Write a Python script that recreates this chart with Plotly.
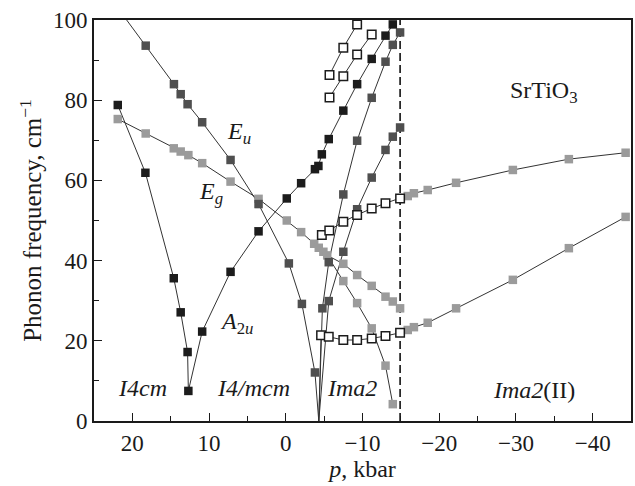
import plotly.graph_objects as go

# ---------------- data (pressure p in kbar, frequency in cm^-1) ----------------
# A2u mode (I4cm -> I4/mcm -> Ima2), black squares
A2U_P = [21.9, 18.3, 14.6, 13.7, 12.8, 12.7, 10.9, 7.2, 3.55, -0.13, -2.0, -3.8, -4.25, -4.7, -5.6, -7.5, -9.3, -11.2, -13.0, -13.95]
A2U_F = [78.8, 61.9, 35.6, 27.1, 17.2, 7.5, 22.3, 37.2, 47.3, 55.5, 59.3, 62.8, 63.6, 66.5, 70.3, 77.4, 84.0, 90.3, 96.1, 98.9]

# Eu soft mode, dark grey squares
EU_P = [21.9, 18.26, 14.58, 13.7, 12.8, 10.9, 7.2, 3.55, -0.4, -2.1, -3.8]
EU_F = [103.0, 93.6, 84.0, 81.5, 79.0, 74.5, 65.1, 54.1, 39.3, 29.2, 12.1]

# soft-mode zero point at the I4/mcm -> Ima2 transition
SOFT_P = [-4.3]
SOFT_F = [0.0]

# Eg mode, light grey squares
EG_P = [21.9, 18.26, 14.6, 13.7, 12.7, 10.9, 7.2, 3.55, -0.13, -2.0, -3.7, -4.3, -4.9, -5.4]
EG_F = [75.3, 71.7, 68.0, 67.2, 66.3, 64.3, 59.7, 55.4, 50.0, 47.1, 44.2, 43.2, 42.2, 41.3]
EGA_P = [-7.5, -9.3, -11.2, -13.0, -13.95, -14.9]
EGA_F = [39.2, 36.4, 33.7, 31.0, 29.8, 28.1]
EGB_P = [-7.5, -9.3, -11.2, -13.0, -13.95]
EGB_F = [34.9, 29.4, 23.1, 13.8, 4.2]

# Ima2 dark grey branches
D1_P = [-4.77, -5.6, -7.5, -9.3, -11.2, -13.0, -13.95, -14.9]
D1_F = [28.1, 39.6, 56.5, 69.9, 80.6, 89.6, 93.8, 96.9]
D2_P = [-5.6, -7.5, -9.3, -11.2, -13.0, -13.95, -14.9]
D2_F = [29.9, 42.2, 52.8, 60.7, 67.6, 70.9, 73.2]

# Ima2 open squares
O1_P = [-5.7, -7.5, -9.3]
O1_F = [86.3, 93.1, 98.9]
O2_P = [-5.7, -7.5, -9.3, -11.2]
O2_F = [80.7, 86.0, 91.4, 96.4]
OMID_P = [-4.7, -5.67, -7.5, -9.3, -11.2, -13.0, -14.9]
OMID_F = [46.4, 47.5, 49.7, 51.4, 53.0, 54.3, 55.5]
OLOW_P = [-4.6, -5.6, -7.5, -9.3, -11.2, -13.0, -14.9]
OLOW_F = [21.4, 21.0, 20.2, 20.2, 20.6, 21.2, 22.0]

# Ima2(II) light grey branches
UII_P = [-15.9, -16.7, -18.5, -22.2, -29.6, -36.9, -44.3]
UII_F = [56.1, 56.8, 57.6, 59.4, 62.6, 65.3, 66.9]
LII_P = [-15.9, -16.7, -18.5, -22.2, -29.6, -36.9, -44.3]
LII_F = [22.7, 23.4, 24.5, 28.1, 35.2, 43.1, 50.9]

# Ima2 -> Ima2(II) transition pressure (dashed line)
PT_P = [-14.9, -14.9]
PT_F = [0, 100]

X_TICKS = [20, 10, 0, -10, -20, -30, -40]
Y_TICKS = [0, 20, 40, 60, 80, 100]

# ---------------- styles ----------------
FONT = "Liberation Serif"
BLACK = "#1c1c1c"
DARK = "#4f4f4f"
LIGHT = "#9b9b9b"
LINE = "#333333"
MS = 8.5

fig = go.Figure()


def line(xs, ys):
    fig.add_trace(go.Scatter(x=xs, y=ys, mode="lines",
                             line=dict(color=LINE, width=1), hoverinfo="skip"))


def marks(xs, ys, color, open_=False):
    if open_:
        m = dict(symbol="square", size=MS, color="white",
                 line=dict(color=BLACK, width=1.5))
    else:
        m = dict(symbol="square", size=MS, color=color, line=dict(width=0))
    fig.add_trace(go.Scatter(x=xs, y=ys, mode="markers", marker=m))


# connecting lines
line(A2U_P, A2U_F)
line(EU_P + SOFT_P, EU_F + SOFT_F)
line(EG_P, EG_F)
line(EG_P[-1:] + EGA_P, EG_F[-1:] + EGA_F)
line(EG_P[-1:] + EGB_P, EG_F[-1:] + EGB_F)
line(SOFT_P + D1_P, SOFT_F + D1_F)
line(SOFT_P + D2_P, SOFT_F + D2_F)
line(O1_P, O1_F)
line(O2_P, O2_F)
line(OMID_P + UII_P, OMID_F + UII_F)
line(SOFT_P + OLOW_P + LII_P, SOFT_F + OLOW_F + LII_F)

# dashed transition line
fig.add_trace(go.Scatter(x=PT_P, y=PT_F, mode="lines",
                         line=dict(color="black", width=1.5, dash="8px,4px")))

# markers
marks(EG_P, EG_F, LIGHT)
marks(EGA_P, EGA_F, LIGHT)
marks(EGB_P, EGB_F, LIGHT)
marks(UII_P, UII_F, LIGHT)
marks(LII_P, LII_F, LIGHT)
marks(EU_P, EU_F, DARK)
marks(D1_P, D1_F, DARK)
marks(D2_P, D2_F, DARK)
marks(A2U_P, A2U_F, BLACK)
marks(O1_P, O1_F, None, True)
marks(O2_P, O2_F, None, True)
marks(OMID_P, OMID_F, None, True)
marks(OLOW_P, OLOW_F, None, True)

# text labels
labels = [
    ("<i>E</i><sub><i>u</i></sub>", 6.1, 71.8),
    ("<i>E</i><sub><i>g</i></sub>", 9.8, 56.9),
    ("<i>A</i><sub>2<i>u</i></sub>", 6.4, 24.4),
    ("<i>I4cm</i>", 18.7, 8.2),
    ("<i>I4/mcm</i>", 4.2, 8.2),
    ("<i>Ima2</i>", -8.6, 8.2),
    ("<i>Ima2</i>(II)", -32.4, 7.7),
    ("SrTiO<sub>3</sub>", -33.7, 82.1),
]
for txt, x, y in labels:
    fig.add_annotation(x=x, y=y, text=txt, showarrow=False,
                       font=dict(family=FONT, size=24, color="#1a1a1a"),
                       xanchor="center", yanchor="middle")

axis_common = dict(
    showgrid=False, zeroline=False, showline=True, mirror=True,
    linecolor="#1a1a1a", linewidth=2, ticks="inside", ticklen=8,
    tickwidth=1.3, tickcolor="#1a1a1a",
    tickfont=dict(family=FONT, size=23, color="#1a1a1a"),
)

fig.update_xaxes(range=[25, -45], tickvals=X_TICKS,
                 minor=dict(ticks="inside", ticklen=5, dtick=5, tick0=0,
                            tickcolor="#1a1a1a", tickwidth=1.3),
                 title=dict(text="<i>p</i>, kbar",
                            font=dict(family=FONT, size=24, color="#1a1a1a"),
                            standoff=5),
                 **axis_common)
fig.update_yaxes(range=[0, 100], tickvals=Y_TICKS,
                 minor=dict(ticks="inside", ticklen=5, dtick=10, tick0=0,
                            tickcolor="#1a1a1a", tickwidth=1.3),
                 title=dict(text="Phonon frequency, cm<sup>−1</sup>",
                            font=dict(family=FONT, size=25, color="#1a1a1a"),
                            standoff=4),
                 **axis_common)

fig.update_layout(
    width=635, height=486,
    margin=dict(l=94, r=2, t=20, b=65),
    paper_bgcolor="white", plot_bgcolor="white",
    showlegend=False,
)

fig.write_html("out.html")
